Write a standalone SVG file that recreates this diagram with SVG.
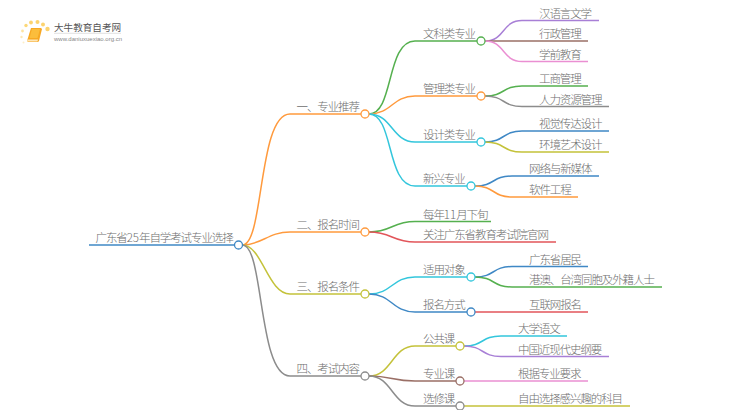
<svg xmlns="http://www.w3.org/2000/svg" width="750" height="410" viewBox="0 0 750 410">
<style>
text{font-family:"Noto Sans CJK SC","Liberation Sans",sans-serif;font-size:11.5px;letter-spacing:-1.1px;font-weight:300;fill:#6e6e6e}
.n{letter-spacing:0}
.c path{fill:none;stroke-width:1.5}
circle{fill:#fff;stroke-width:1.3}
.bl{stroke:#3f88c5}.or{stroke:#ff9a3d}.gr{stroke:#55b04f}.ol{stroke:#c4c23a}.gy{stroke:#8c8c8c}.cy{stroke:#33c6dc}.pu{stroke:#a87fd6}.br{stroke:#9a6f66}.pi{stroke:#ea8fd2}.re{stroke:#e2555a}
.d{stroke:none}
</style>
<g id="logo">
<circle class="d" cx="26" cy="25.500" r="1.700" style="fill:#fcd878"/><circle class="d" cx="31" cy="22.500" r="1.900" style="fill:#fcd36f"/><circle class="d" cx="37.500" cy="22" r="2" style="fill:#fcd36f"/><circle class="d" cx="43" cy="24.500" r="2" style="fill:#fcd36f"/><circle class="d" cx="47.500" cy="29" r="2.200" style="fill:#fcd36f"/><circle class="d" cx="22.500" cy="31" r="1.400" style="fill:#fde3a0"/><circle class="d" cx="21.500" cy="37" r="1.200" style="fill:#fde8b5"/><circle class="d" cx="23.500" cy="42.500" r="1" style="fill:#fdeec8"/>
<path d="M31 28h10l1 1-3 12-1 1H28l-1-1z" fill="#f7a823"/>
<path d="M32 29h8l-2.500 9H29.500z" fill="#fbbd3c"/>
<path d="M27.500 39.500h10.500l-.5 2H27z" fill="#fde6b8"/>
<text x="54" y="31" style="font-size:9.600px;letter-spacing:0;font-weight:400;fill:#555">大牛教育自考网</text>
<path d="M54 33.300H121" stroke="#ccc" stroke-width=".6"/>
<text x="54" y="41" style="font-size:6px;letter-spacing:0;font-weight:400;fill:#888;font-family:'Liberation Sans',sans-serif">www.daniuxuexiao.org.cn</text>
</g>
<g id="connectors" class="c">
<path class="bl" d="M89 245H234.500"/>
<path class="or" d="M242.500 245C264 245 258 114 290 114H361"/>
<path class="or" d="M242.500 245C262 245 268 232 290 232H361"/>
<path class="ol" d="M242.500 245C262 245 268 294 290 294H361"/>
<path class="gy" d="M242.500 245C264 245 258 376 290 376H361"/>
<path class="gr" d="M369 114C394 114 386 41 415 41H477"/>
<path class="or" d="M369 114C392 114 392 96 415 96H477"/>
<path class="cy" d="M369 114C392 114 392 142 415 142H477"/>
<path class="cy" d="M369 114C394 114 386 186 415 186H467"/>
<path class="pu" d="M485 41C505 41 502 20.500 522 20.500H599"/>
<path class="br" d="M485 41H588"/>
<path class="pi" d="M485 41C505 41 502 61.500 522 61.500H588"/>
<path class="gr" d="M485 96C505 96 502 86 522 86H588"/>
<path class="gy" d="M485 96C505 96 502 106.500 522 106.500H609"/>
<path class="bl" d="M485 142C505 142 502 131 522 131H609"/>
<path class="ol" d="M485 142C505 142 502 152 522 152H609"/>
<path class="bl" d="M475 186C495 186 492 176 512 176H599"/>
<path class="or" d="M475 186C495 186 492 197 512 197H578"/>
<path class="gr" d="M369 232C392 232 392 221.500 415 221.500H491"/>
<path class="re" d="M369 232C392 232 392 242 415 242H556"/>
<path class="cy" d="M369 294C392 294 392 277 415 277H467"/>
<path class="bl" d="M369 294C392 294 392 312 415 312H467"/>
<path class="bl" d="M475 277C495 277 492 266.500 512 266.500H588"/>
<path class="gr" d="M475 277C495 277 492 287 512 287H662"/>
<path class="re" d="M475 312H588"/>
<path class="ol" d="M369 376C392 376 392 346 415 346H456"/>
<path class="br" d="M369 376C392 376 392 381 415 381H456"/>
<path class="gy" d="M369 376C392 376 392 406 415 406H456"/>
<path class="cy" d="M464 346C484 346 481 336 501 336H567"/>
<path class="pu" d="M464 346C484 346 481 356.500 501 356.500H609"/>
<path class="pi" d="M464 381H588"/>
<path class="ol" d="M464 406H630"/>
</g>
<g id="root"><text x="95.500" y="242">广东省<tspan class="n">25</tspan>年自学考试专业选择</text><circle class="bl" cx="238.500" cy="245" r="4"/></g>
<g id="n1"><text x="296.500" y="111">一、专业推荐</text><circle class="or" cx="365" cy="114" r="4"/></g>
<g id="n2"><text x="296.500" y="229">二、报名时间</text><circle class="or" cx="365" cy="232" r="4"/></g>
<g id="n3"><text x="296.500" y="291">三、报名条件</text><circle class="ol" cx="365" cy="294" r="4"/></g>
<g id="n4"><text x="296.500" y="373">四、考试内容</text><circle class="gy" cx="365" cy="376" r="4"/></g>
<g id="n1-1"><text x="423" y="38">文科类专业</text><circle class="gr" cx="481" cy="41" r="4"/></g>
<g id="n1-2"><text x="423" y="93">管理类专业</text><circle class="or" cx="481" cy="96" r="4"/></g>
<g id="n1-3"><text x="423" y="139">设计类专业</text><circle class="cy" cx="481" cy="142" r="4"/></g>
<g id="n1-4"><text x="423" y="183">新兴专业</text><circle class="cy" cx="471" cy="186" r="4"/></g>
<g id="l1"><text x="539" y="17.500">汉语言文学</text></g>
<g id="l2"><text x="539" y="38">行政管理</text></g>
<g id="l3"><text x="539" y="58.500">学前教育</text></g>
<g id="l4"><text x="539" y="83">工商管理</text></g>
<g id="l5"><text x="539" y="103.500">人力资源管理</text></g>
<g id="l6"><text x="539" y="128">视觉传达设计</text></g>
<g id="l7"><text x="539" y="149">环境艺术设计</text></g>
<g id="l8"><text x="529" y="173">网络与新媒体</text></g>
<g id="l9"><text x="529" y="194">软件工程</text></g>
<g id="l10"><text x="423" y="218.500">每年<tspan class="n">11</tspan>月下旬</text></g>
<g id="l11"><text x="423" y="239">关注广东省教育考试院官网</text></g>
<g id="n3-1"><text x="423" y="274">适用对象</text><circle class="cy" cx="471" cy="277" r="4"/></g>
<g id="n3-2"><text x="423" y="309">报名方式</text><circle class="bl" cx="471" cy="312" r="4"/></g>
<g id="l12"><text x="529" y="263.500">广东省居民</text></g>
<g id="l13"><text x="529" y="284">港澳、台湾同胞及外籍人士</text></g>
<g id="l14"><text x="529" y="309">互联网报名</text></g>
<g id="n4-1"><text x="423" y="343">公共课</text><circle class="ol" cx="460" cy="346" r="4"/></g>
<g id="n4-2"><text x="423" y="378">专业课</text><circle class="br" cx="460" cy="381" r="4"/></g>
<g id="n4-3"><text x="423" y="403">选修课</text><circle class="gy" cx="460" cy="406" r="4"/></g>
<g id="l15"><text x="518" y="333">大学语文</text></g>
<g id="l16"><text x="518" y="353.500">中国近现代史纲要</text></g>
<g id="l17"><text x="518" y="378">根据专业要求</text></g>
<g id="l18"><text x="518" y="403">自由选择感兴趣的科目</text></g>
</svg>
